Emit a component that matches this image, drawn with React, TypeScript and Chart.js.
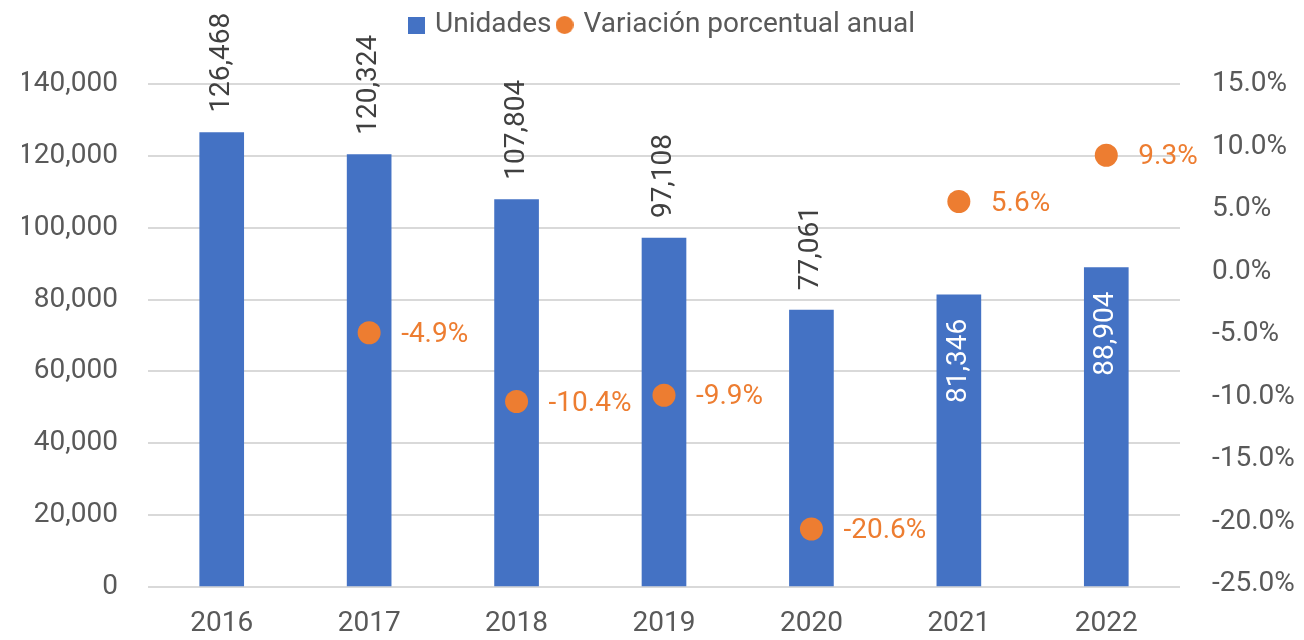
import React, { useEffect, useRef } from 'react';
import { Chart, registerables } from 'chart.js';

Chart.register(...registerables);

const years = ['2016', '2017', '2018', '2019', '2020', '2021', '2022'];
const units = [126468, 120324, 107804, 97108, 77061, 81346, 88904];
const pctChange: (number | null)[] = [null, -4.9, -10.4, -9.9, -20.6, 5.6, 9.3];
const unitTicks = [0, 20000, 40000, 60000, 80000, 100000, 120000, 140000];
const pctTicks = [-25, -20, -15, -10, -5, 0, 5, 10, 15];
const legendLabels = ['Unidades', 'Variación porcentual anual'];

const BLUE = '#4472C4';
const ORANGE = '#ED7D31';
const TEXT = '#595959';
const DARK = '#404040';
const GRID = '#D9D9D9';
const FONT = 'Roboto';
const FS = 28;

function makeMarker(kind: 'rect' | 'circle', color: string, size: number) {
  const c = document.createElement('canvas');
  c.width = size;
  c.height = size;
  const g = c.getContext('2d')!;
  g.fillStyle = color;
  if (kind === 'rect') {
    g.fillRect(0, 0, size, size);
  } else {
    g.beginPath();
    g.arc(size / 2, size / 2, size / 2, 0, Math.PI * 2);
    g.fill();
  }
  return c;
}

const labelPlugin = {
  id: 'valueLabels',
  afterDatasetsDraw(chart: any) {
    const ctx = chart.ctx;
    const barMeta = chart.getDatasetMeta(0);
    const ptMeta = chart.getDatasetMeta(1);
    ctx.save();
    ctx.font = `${FS}px ${FONT}`;
    barMeta.data.forEach((bar: any, i: number) => {
      const pt = ptMeta.data[i];
      const pv = pctChange[i];
      const inside = pv != null && pt && pt.y < bar.y;
      const text = units[i].toLocaleString('en-US');
      ctx.save();
      ctx.translate(bar.x, inside ? bar.y + 24 : bar.y - 20);
      ctx.rotate(-Math.PI / 2);
      ctx.textAlign = inside ? 'right' : 'left';
      ctx.textBaseline = 'middle';
      ctx.fillStyle = inside ? '#FFFFFF' : DARK;
      ctx.fillText(text, 0, 0);
      ctx.restore();
    });
    ptMeta.data.forEach((pt: any, i: number) => {
      const pv = pctChange[i];
      if (pv == null) return;
      ctx.textAlign = 'left';
      ctx.textBaseline = 'middle';
      ctx.fillStyle = ORANGE;
      ctx.fillText(pv.toFixed(1) + '%', pt.x + 32, pt.y + 2);
    });
    ctx.restore();
  },
};

export default function App() {
  const ref = useRef<HTMLCanvasElement | null>(null);

  useEffect(() => {
    document.body.style.margin = '0';
    const markers = [makeMarker('rect', BLUE, 17), makeMarker('circle', ORANGE, 18)];
    const colors = [BLUE, ORANGE];
    const chart = new Chart(ref.current!, {
      type: 'bar',
      data: {
        labels: years,
        datasets: [
          {
            type: 'bar',
            label: legendLabels[0],
            data: units,
            backgroundColor: BLUE,
            barThickness: 44,
            yAxisID: 'y',
            order: 2,
          } as any,
          {
            type: 'line',
            label: legendLabels[1],
            data: pctChange,
            showLine: false,
            pointRadius: 11.5,
            pointHoverRadius: 11.5,
            pointBackgroundColor: ORANGE,
            pointBorderWidth: 0,
            borderColor: ORANGE,
            backgroundColor: ORANGE,
            yAxisID: 'y2',
            order: 1,
          } as any,
        ],
      },
      options: {
        animation: false,
        responsive: false,
        maintainAspectRatio: false,
        layout: { padding: { left: 22, right: 0, top: 3, bottom: 0 } },
        plugins: {
          tooltip: { enabled: false },
          legend: {
            display: true,
            position: 'top',
            labels: {
              usePointStyle: true,
              boxWidth: 10,
              boxHeight: 17,
              padding: 8,
              color: TEXT,
              font: { family: FONT, size: FS },
              generateLabels: () =>
                legendLabels.map((t, i) => ({
                  text: t,
                  pointStyle: markers[i],
                  fillStyle: colors[i],
                  strokeStyle: 'transparent',
                  lineWidth: 0,
                  hidden: false,
                  datasetIndex: i,
                  fontColor: TEXT,
                })) as any,
            },
          },
        },
        scales: {
          x: {
            type: 'category',
            position: 'bottom',
            offset: true,
            grid: { display: false, drawTicks: false },
            border: { display: false },
            ticks: { color: TEXT, font: { family: FONT, size: FS }, padding: 20, maxRotation: 0 },
            afterFit: (s: any) => {
              s.height = 53;
            },
          },
          xTop: {
            type: 'category',
            position: 'top',
            display: true,
            grid: { display: false, drawTicks: false },
            border: { display: false },
            ticks: { display: false },
            afterFit: (s: any) => {
              s.height = 35;
            },
          },
          y: {
            type: 'linear',
            position: 'left',
            min: 0,
            max: 140000,
            afterBuildTicks: (s: any) => {
              s.ticks = unitTicks.map((v) => ({ value: v }));
            },
            afterFit: (s: any) => {
              s.width = 126;
            },
            grid: { color: GRID, lineWidth: 2, drawTicks: false },
            border: { display: false },
            ticks: {
              color: TEXT,
              font: { family: FONT, size: FS },
              padding: 30,
              callback: (v: any) => Number(v).toLocaleString('en-US'),
            },
          },
          y2: {
            type: 'linear',
            position: 'right',
            min: -25.24,
            max: 15,
            afterBuildTicks: (s: any) => {
              s.ticks = pctTicks.map((v) => ({ value: v }));
            },
            afterFit: (s: any) => {
              s.width = 124;
            },
            grid: { display: false, drawTicks: false },
            border: { display: false },
            ticks: {
              color: TEXT,
              font: { family: FONT, size: FS },
              padding: 32,
              callback: (v: any) => Number(v).toFixed(1) + '%',
            },
          },
        } as any,
      },
      plugins: [labelPlugin],
    });
    return () => chart.destroy();
  }, []);

  return (
    <div style={{ width: 1304, height: 640 }}>
      <canvas ref={ref} width={1304} height={640} style={{ width: 1304, height: 640, display: 'block' }} />
    </div>
  );
}
